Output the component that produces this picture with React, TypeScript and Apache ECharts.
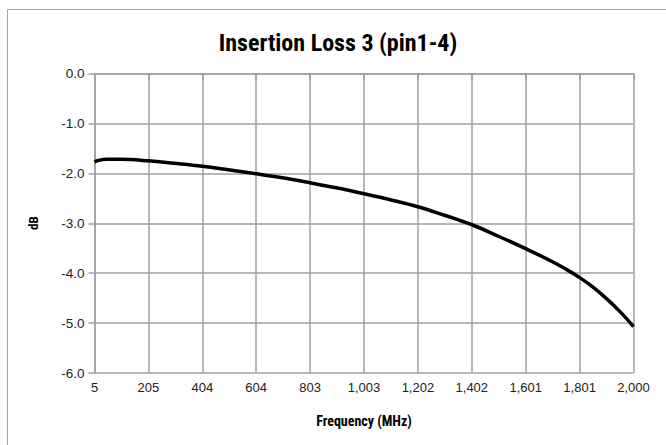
import React, { useEffect, useRef } from "react";
import * as echarts from "echarts";

const frequencies = [5, 20, 50, 100, 205, 300, 404, 500, 604, 700, 803, 900, 1003, 1100, 1202, 1300, 1402, 1500, 1601, 1700, 1750, 1801, 1850, 1900, 1950, 2000];
const lossDb = [-1.77, -1.74, -1.72, -1.72, -1.75, -1.8, -1.86, -1.93, -2.01, -2.09, -2.19, -2.29, -2.41, -2.53, -2.67, -2.84, -3.03, -3.26, -3.51, -3.77, -3.92, -4.09, -4.28, -4.51, -4.77, -5.07];
const xTickLabels = ["5", "205", "404", "604", "803", "1,003", "1,202", "1,402", "1,601", "1,801", "2,000"];
const yTickLabels = ["-6.0", "-5.0", "-4.0", "-3.0", "-2.0", "-1.0", "0.0"];

const titleText = "Insertion Loss 3 (pin1-4)";
const xTitle = "Frequency (MHz)";
const yTitle = "dB";

const narrow = "'Liberation Sans Narrow', 'Roboto Condensed', 'Arial Narrow', 'DejaVu Sans Condensed', sans-serif";
const labelFont = "'Liberation Sans', Arial, sans-serif";

export default function App() {
  const ref = useRef<HTMLDivElement>(null);
  useEffect(() => {
    if (!ref.current) return;
    const chart = echarts.init(ref.current, undefined, { renderer: "svg" });
    const gridColor = "#a0a0a0";
    chart.setOption({
      animation: false,
      backgroundColor: "#ffffff",
      graphic: [
        {
          type: "rect",
          shape: { x: 7.5, y: 9.5, width: 700, height: 500 },
          style: { fill: "none", stroke: "#a6a6a6", lineWidth: 1 },
          silent: true,
        },
        {
          type: "text",
          x: 338,
          y: 43,
          style: {
            text: titleText,
            font: `bold 24px ${narrow}`,
            fill: "#000000",
            textAlign: "center",
            textVerticalAlign: "middle",
          },
        },
        {
          type: "text",
          x: 364,
          y: 421,
          style: {
            text: xTitle,
            font: `bold 14px ${narrow}`,
            fill: "#000000",
            textAlign: "center",
            textVerticalAlign: "middle",
          },
        },
        {
          type: "text",
          x: 33,
          y: 223,
          rotation: Math.PI / 2,
          style: {
            text: yTitle,
            font: `bold 13px ${narrow}`,
            fill: "#000000",
            textAlign: "center",
            textVerticalAlign: "middle",
          },
        },
      ],
      grid: { left: 94.5, right: 32.5, top: 73.5, bottom: 72, containLabel: false },
      xAxis: {
        type: "value",
        min: 5,
        max: 2000,
        interval: 199.5,
        axisLine: { show: true, lineStyle: { color: gridColor, width: 1.5 } },
        axisTick: { show: true, length: 6, lineStyle: { color: gridColor, width: 1.5 } },
        axisLabel: {
          margin: 8,
          color: "#222222",
          fontFamily: labelFont,
          fontSize: 13,
          showMaxLabel: true,
          showMinLabel: true,
          formatter: (_v: number, i: number) => xTickLabels[i] ?? "",
        },
        splitLine: { show: true, lineStyle: { color: gridColor, width: 1.5 } },
      },
      yAxis: {
        type: "value",
        min: -6,
        max: 0,
        interval: 1,
        axisLine: { show: true, lineStyle: { color: gridColor, width: 1.5 } },
        axisTick: { show: true, length: 6, lineStyle: { color: gridColor, width: 1.5 } },
        axisLabel: {
          margin: 10,
          color: "#222222",
          fontFamily: labelFont,
          fontSize: 13.5,
          formatter: (_v: number, i: number) => yTickLabels[i] ?? "",
        },
        splitLine: { show: true, lineStyle: { color: gridColor, width: 1.5 } },
      },
      series: [
        {
          type: "line",
          data: frequencies.map((f, i) => [f, lossDb[i]]),
          smooth: 0.4,
          showSymbol: false,
          lineStyle: { color: "#000000", width: 3.5 },
          silent: true,
        },
      ],
    });
    return () => chart.dispose();
  }, []);
  return <div ref={ref} style={{ width: 666, height: 445, position: "absolute", left: 0, top: 0 }} />;
}
